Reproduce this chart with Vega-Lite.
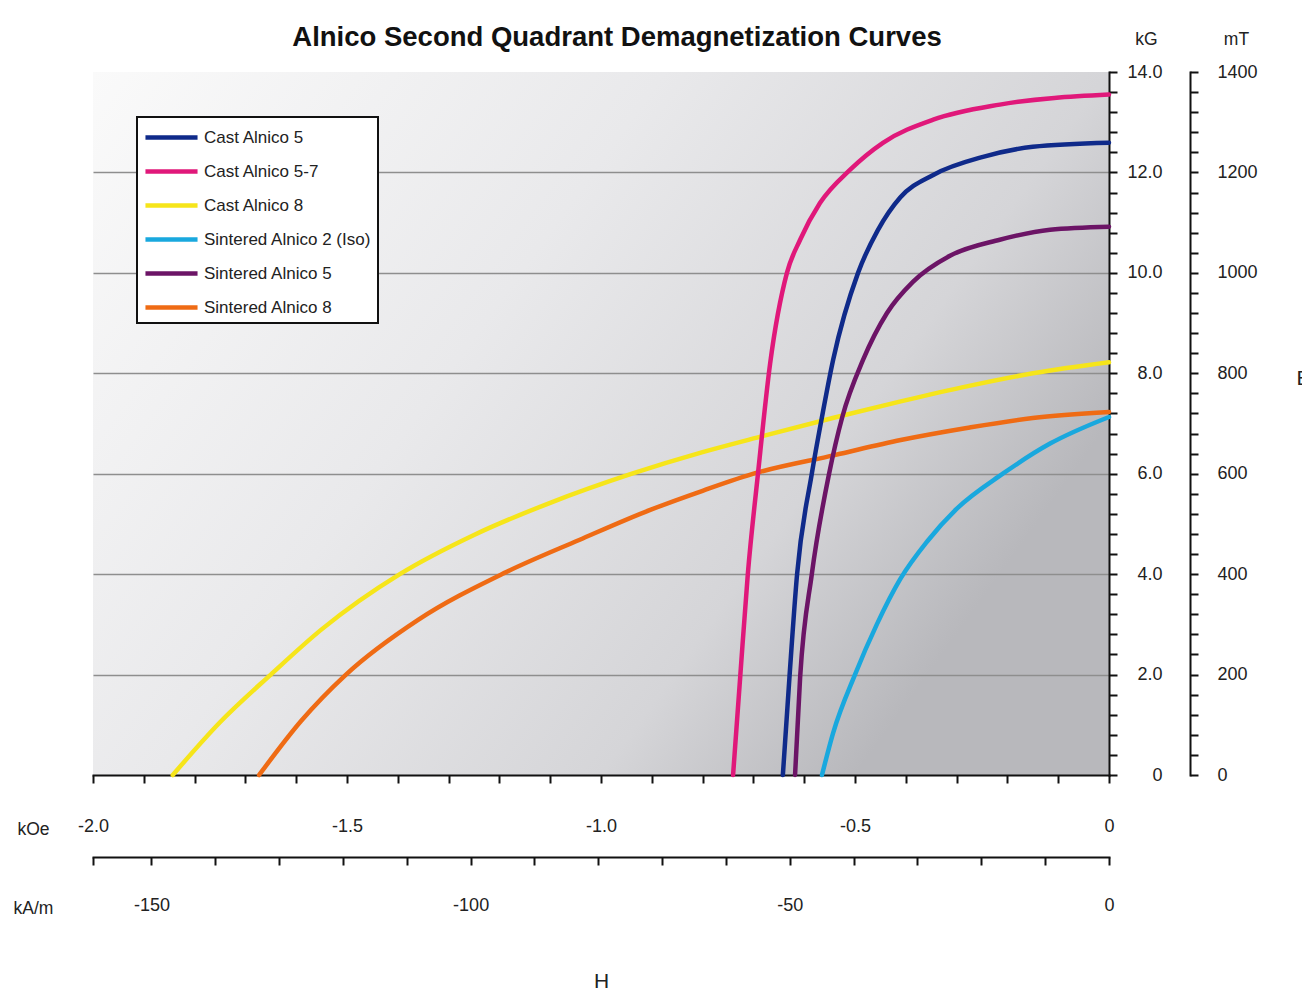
{
  "$schema": "https://vega.github.io/schema/vega-lite/v6.json",
  "width": 1016,
  "height": 703,
  "autosize": {"type": "none"},
  "padding": {"left": 93, "top": 72, "right": 193, "bottom": 222},
  "background": "#ffffff",
  "title": {
    "text": "Alnico Second Quadrant Demagnetization Curves",
    "anchor": "middle",
    "font": "Liberation Sans",
    "fontSize": 27.5,
    "fontWeight": "bold",
    "color": "#111111",
    "dx": 16,
    "offset": -43,
    "baseline": "alphabetic"
  },
  "datasets": {
    "curves": [
      {"material": "Cast Alnico 8", "H": -1.843, "B": 0},
      {"material": "Cast Alnico 8", "H": -1.75, "B": 1.05},
      {"material": "Cast Alnico 8", "H": -1.65, "B": 2.0},
      {"material": "Cast Alnico 8", "H": -1.55, "B": 2.9},
      {"material": "Cast Alnico 8", "H": -1.396, "B": 4.0},
      {"material": "Cast Alnico 8", "H": -1.25, "B": 4.78},
      {"material": "Cast Alnico 8", "H": -1.1, "B": 5.42},
      {"material": "Cast Alnico 8", "H": -0.939, "B": 6.0},
      {"material": "Cast Alnico 8", "H": -0.8, "B": 6.43},
      {"material": "Cast Alnico 8", "H": -0.693, "B": 6.72},
      {"material": "Cast Alnico 8", "H": -0.54, "B": 7.12},
      {"material": "Cast Alnico 8", "H": -0.41, "B": 7.44},
      {"material": "Cast Alnico 8", "H": -0.28, "B": 7.74},
      {"material": "Cast Alnico 8", "H": -0.15, "B": 8.0},
      {"material": "Cast Alnico 8", "H": 0, "B": 8.22},
      {"material": "Sintered Alnico 8", "H": -1.673, "B": 0},
      {"material": "Sintered Alnico 8", "H": -1.59, "B": 1.08},
      {"material": "Sintered Alnico 8", "H": -1.502, "B": 2.0},
      {"material": "Sintered Alnico 8", "H": -1.36, "B": 3.09},
      {"material": "Sintered Alnico 8", "H": -1.191, "B": 4.02},
      {"material": "Sintered Alnico 8", "H": -1.043, "B": 4.68},
      {"material": "Sintered Alnico 8", "H": -0.903, "B": 5.28},
      {"material": "Sintered Alnico 8", "H": -0.8, "B": 5.66},
      {"material": "Sintered Alnico 8", "H": -0.693, "B": 6.02},
      {"material": "Sintered Alnico 8", "H": -0.54, "B": 6.37},
      {"material": "Sintered Alnico 8", "H": -0.41, "B": 6.67},
      {"material": "Sintered Alnico 8", "H": -0.28, "B": 6.91},
      {"material": "Sintered Alnico 8", "H": -0.15, "B": 7.11},
      {"material": "Sintered Alnico 8", "H": 0, "B": 7.23},
      {"material": "Cast Alnico 5-7", "H": -0.74, "B": 0},
      {"material": "Cast Alnico 5-7", "H": -0.726, "B": 1.95},
      {"material": "Cast Alnico 5-7", "H": -0.711, "B": 4.0},
      {"material": "Cast Alnico 5-7", "H": -0.691, "B": 6.0},
      {"material": "Cast Alnico 5-7", "H": -0.667, "B": 8.2},
      {"material": "Cast Alnico 5-7", "H": -0.634, "B": 10.0},
      {"material": "Cast Alnico 5-7", "H": -0.608, "B": 10.66},
      {"material": "Cast Alnico 5-7", "H": -0.569, "B": 11.39},
      {"material": "Cast Alnico 5-7", "H": -0.51, "B": 12.05},
      {"material": "Cast Alnico 5-7", "H": -0.445, "B": 12.59},
      {"material": "Cast Alnico 5-7", "H": -0.346, "B": 13.05},
      {"material": "Cast Alnico 5-7", "H": -0.215, "B": 13.35},
      {"material": "Cast Alnico 5-7", "H": 0, "B": 13.55},
      {"material": "Cast Alnico 5", "H": -0.642, "B": 0},
      {"material": "Cast Alnico 5", "H": -0.629, "B": 1.95},
      {"material": "Cast Alnico 5", "H": -0.614, "B": 4.0},
      {"material": "Cast Alnico 5", "H": -0.585, "B": 6.0},
      {"material": "Cast Alnico 5", "H": -0.565, "B": 7.13},
      {"material": "Cast Alnico 5", "H": -0.543, "B": 8.27},
      {"material": "Cast Alnico 5", "H": -0.494, "B": 10.0},
      {"material": "Cast Alnico 5", "H": -0.455, "B": 10.85},
      {"material": "Cast Alnico 5", "H": -0.411, "B": 11.5},
      {"material": "Cast Alnico 5", "H": -0.346, "B": 11.95},
      {"material": "Cast Alnico 5", "H": -0.248, "B": 12.31},
      {"material": "Cast Alnico 5", "H": -0.15, "B": 12.51},
      {"material": "Cast Alnico 5", "H": 0, "B": 12.59},
      {"material": "Sintered Alnico 5", "H": -0.618, "B": 0},
      {"material": "Sintered Alnico 5", "H": -0.608, "B": 1.95},
      {"material": "Sintered Alnico 5", "H": -0.585, "B": 4.0},
      {"material": "Sintered Alnico 5", "H": -0.551, "B": 6.0},
      {"material": "Sintered Alnico 5", "H": -0.525, "B": 7.13},
      {"material": "Sintered Alnico 5", "H": -0.484, "B": 8.27},
      {"material": "Sintered Alnico 5", "H": -0.437, "B": 9.2},
      {"material": "Sintered Alnico 5", "H": -0.386, "B": 9.82},
      {"material": "Sintered Alnico 5", "H": -0.313, "B": 10.34},
      {"material": "Sintered Alnico 5", "H": -0.215, "B": 10.66},
      {"material": "Sintered Alnico 5", "H": -0.116, "B": 10.86},
      {"material": "Sintered Alnico 5", "H": 0, "B": 10.92},
      {"material": "Sintered Alnico 2 (Iso)", "H": -0.565, "B": 0},
      {"material": "Sintered Alnico 2 (Iso)", "H": -0.543, "B": 0.84},
      {"material": "Sintered Alnico 2 (Iso)", "H": -0.5, "B": 2.0},
      {"material": "Sintered Alnico 2 (Iso)", "H": -0.457, "B": 3.0},
      {"material": "Sintered Alnico 2 (Iso)", "H": -0.411, "B": 3.9},
      {"material": "Sintered Alnico 2 (Iso)", "H": -0.358, "B": 4.65},
      {"material": "Sintered Alnico 2 (Iso)", "H": -0.3, "B": 5.3},
      {"material": "Sintered Alnico 2 (Iso)", "H": -0.209, "B": 6.0},
      {"material": "Sintered Alnico 2 (Iso)", "H": -0.116, "B": 6.6},
      {"material": "Sintered Alnico 2 (Iso)", "H": 0, "B": 7.13}
    ],
    "frame": [
      {"kAm": -159.155, "mT": 0},
      {"kAm": 0, "mT": 1400}
    ]
  },
  "layer": [
    {
      "data": {"name": "curves"},
      "mark": {"type": "line", "interpolate": "monotone", "strokeWidth": 4.5, "strokeCap": "round"},
      "encoding": {
        "x": {
          "field": "H",
          "type": "quantitative",
          "scale": {"domain": [-2, 0], "nice": false, "zero": false},
          "axis": {
            "orient": "bottom",
            "title": "kOe",
            "titleX": -60,
            "titleY": 54,
            "titleAngle": 0,
            "titleAlign": "center",
            "titleBaseline": "middle",
            "values": [-2, -1.9, -1.8, -1.7, -1.6, -1.5, -1.4, -1.3, -1.2, -1.1, -1, -0.9, -0.8, -0.7, -0.6, -0.5, -0.4, -0.3, -0.2, -0.1, 0],
            "labelExpr": "abs(datum.value*2 - round(datum.value*2)) < 0.001 ? (datum.value == 0 ? '0' : '-' + format(-datum.value, '.1f')) : ''",
            "labelPadding": 34,
            "grid": false
          }
        },
        "y": {
          "field": "B",
          "type": "quantitative",
          "scale": {"domain": [0, 14], "nice": false, "zero": false},
          "axis": {
            "orient": "right",
            "title": "kG",
            "titleX": 37,
            "titleY": -33,
            "titleAngle": 0,
            "titleAlign": "center",
            "titleBaseline": "middle",
            "values": [0, 0.4, 0.8, 1.2, 1.6, 2, 2.4, 2.8, 3.2, 3.6, 4, 4.4, 4.8, 5.2, 5.6, 6, 6.4, 6.8, 7.2, 7.6, 8, 8.4, 8.8, 9.2, 9.6, 10, 10.4, 10.8, 11.2, 11.6, 12, 12.4, 12.8, 13.2, 13.6, 14],
            "labelExpr": "abs(datum.value/2 - round(datum.value/2)) < 0.001 ? (datum.value == 0 ? '0' : format(datum.value, '.1f')) : ''",
            "labelAlign": "right",
            "labelPadding": 45,
            "grid": true,
            "gridColor": "#8e8e8e",
            "gridWidth": 1.5,
            "gridOpacity": {"condition": {"test": "abs(datum.value/2 - round(datum.value/2)) < 0.001 && datum.value > 0.5 && datum.value < 13.5", "value": 1}, "value": 0}
          }
        },
        "color": {
          "field": "material",
          "type": "nominal",
          "scale": {
            "domain": ["Cast Alnico 5", "Cast Alnico 5-7", "Cast Alnico 8", "Sintered Alnico 2 (Iso)", "Sintered Alnico 5", "Sintered Alnico 8"],
            "range": ["#0f2a8a", "#e0187a", "#f6e51a", "#19a8de", "#6c1466", "#ef6b14"]
          },
          "legend": {"title": null, "orient": "none", "legendX": 44, "legendY": 45}
        }
      }
    },
    {
      "data": {"name": "frame"},
      "mark": {"type": "point", "opacity": 0},
      "encoding": {
        "x": {
          "field": "kAm",
          "type": "quantitative",
          "scale": {"domain": [-159.155, 0], "nice": false, "zero": false},
          "axis": {
            "orient": "bottom",
            "offset": 82,
            "title": "kA/m",
            "titleX": -60,
            "titleY": 51,
            "titleAngle": 0,
            "titleAlign": "center",
            "titleBaseline": "middle",
            "values": [-159.155, -150, -140, -130, -120, -110, -100, -90, -80, -70, -60, -50, -40, -30, -20, -10, 0],
            "labelExpr": "datum.value % 50 == 0 ? (datum.value == 0 ? '0' : '-' + format(-datum.value, 'd')) : ''",
            "labelPadding": 31,
            "grid": false
          }
        },
        "y": {
          "field": "mT",
          "type": "quantitative",
          "scale": {"domain": [0, 1400], "nice": false, "zero": false},
          "axis": {
            "orient": "right",
            "offset": 81,
            "title": "mT",
            "titleX": 46,
            "titleY": -33,
            "titleAngle": 0,
            "titleAlign": "center",
            "titleBaseline": "middle",
            "values": [0, 40, 80, 120, 160, 200, 240, 280, 320, 360, 400, 440, 480, 520, 560, 600, 640, 680, 720, 760, 800, 840, 880, 920, 960, 1000, 1040, 1080, 1120, 1160, 1200, 1240, 1280, 1320, 1360, 1400],
            "labelExpr": "datum.value % 200 == 0 ? format(datum.value, 'd') : ''",
            "labelAlign": "left",
            "labelPadding": 19,
            "grid": false
          }
        }
      }
    },
    {
      "data": {"name": "frame"},
      "mark": {"type": "point", "opacity": 0},
      "encoding": {
        "x": {
          "field": "kAm",
          "type": "quantitative",
          "scale": {"domain": [-159.155, 0], "nice": false, "zero": false},
          "axis": {
            "orient": "bottom",
            "offset": 0,
            "title": "H",
            "titleX": 508,
            "titleY": 206,
            "titleAngle": 0,
            "titleAlign": "center",
            "titleBaseline": "middle",
            "titleFontSize": 21,
            "domain": false,
            "ticks": false,
            "labels": false,
            "grid": false
          }
        },
        "y": {
          "field": "mT",
          "type": "quantitative",
          "scale": {"domain": [0, 1400], "nice": false, "zero": false},
          "axis": {
            "orient": "right",
            "offset": 0,
            "title": "B",
            "titleX": 187,
            "titleY": 306,
            "titleAngle": 0,
            "titleAlign": "left",
            "titleBaseline": "middle",
            "titleFontSize": 21,
            "domain": false,
            "ticks": false,
            "labels": false,
            "grid": false
          }
        }
      }
    }
  ],
  "resolve": {
    "scale": {"x": "independent", "y": "independent"},
    "axis": {"x": "independent", "y": "independent"}
  },
  "config": {
    "font": "Liberation Sans",
    "view": {
      "stroke": null,
      "fill": {
        "gradient": "linear",
        "x1": 0, "y1": 0, "x2": 1, "y2": 0.5,
        "stops": [
          {"offset": 0, "color": "#fafafa"},
          {"offset": 0.45, "color": "#e9e9eb"},
          {"offset": 0.8, "color": "#d5d5d8"},
          {"offset": 1, "color": "#b8b8bc"}
        ]
      }
    },
    "axis": {
      "domainColor": "#111111",
      "domainWidth": 2,
      "domainCap": "square",
      "tickColor": "#111111",
      "tickWidth": 2,
      "tickSize": 8,
      "labelFont": "Liberation Sans",
      "labelFontSize": 18,
      "labelColor": "#222222",
      "labelOverlap": false,
      "labelFlush": false,
      "labelBound": false,
      "titleFont": "Liberation Sans",
      "titleFontSize": 17.5,
      "titleFontWeight": "normal",
      "titleColor": "#222222",
      "zindex": 0
    },
    "legend": {
      "padding": 6,
      "strokeColor": "#111111",
      "strokeWidth": 2,
      "fillColor": "#ffffff",
      "symbolType": "M-2.17,0H2.17",
      "symbolSize": 576,
      "symbolStrokeWidth": 4.5,
      "symbolOffset": 14,
      "labelOffset": 18,
      "rowPadding": 10,
      "labelFont": "Liberation Sans",
      "labelFontSize": 17,
      "labelColor": "#222222",
      "labelLimit": 400
    }
  }
}
